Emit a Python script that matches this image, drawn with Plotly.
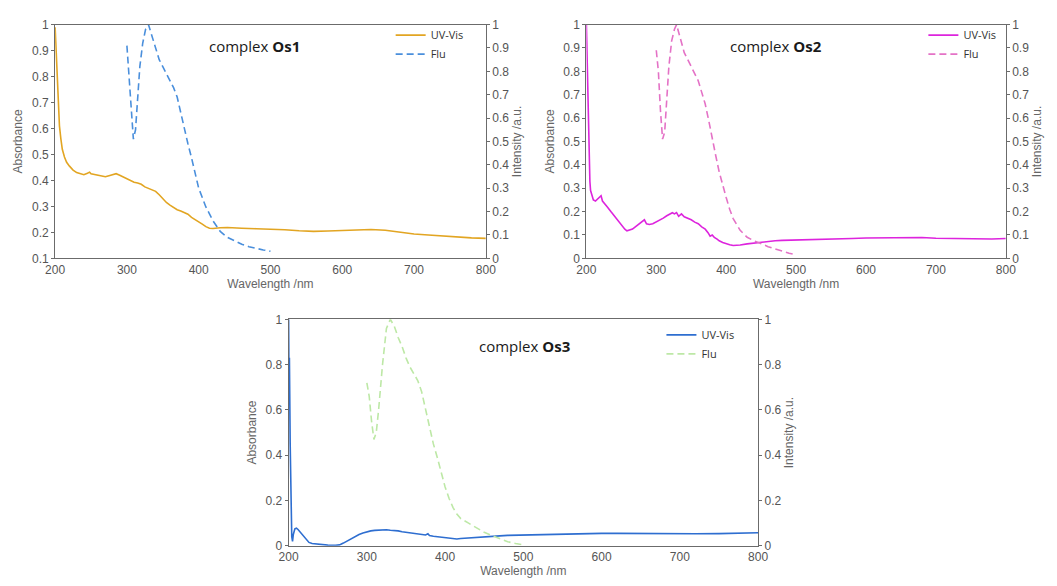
import plotly.graph_objects as go

# ---------------- data ----------------
# Panel 1 (Os1)
os1_uv_wl = [200, 201, 202, 203, 204, 206, 208, 210, 213, 216, 220, 225, 230, 235, 240, 245, 248, 250, 255, 260,
             265, 270, 275, 280, 285, 290, 295, 300, 305, 310, 315, 320, 325, 330, 335, 340, 345, 350, 355, 360,
             365, 370, 375, 380, 385, 390, 395, 400, 405, 410, 415, 420, 425, 430, 440, 450, 460, 480, 500, 520,
             540, 560, 580, 600, 620, 640, 660, 680, 700, 720, 740, 760, 780, 800]
os1_uv_abs = [0.99, 0.93, 0.84, 0.76, 0.69, 0.61, 0.56, 0.52, 0.49, 0.47, 0.455, 0.44, 0.43, 0.427, 0.422, 0.428,
              0.432, 0.426, 0.423, 0.42, 0.418, 0.414, 0.418, 0.423, 0.426, 0.42, 0.413, 0.405, 0.398, 0.393, 0.39,
              0.385, 0.375, 0.37, 0.362, 0.358, 0.345, 0.33, 0.315, 0.305, 0.295, 0.287, 0.282, 0.275, 0.27, 0.258,
              0.25, 0.243, 0.232, 0.222, 0.216, 0.215, 0.217, 0.218, 0.219, 0.217, 0.216, 0.214, 0.213, 0.21,
              0.206, 0.204, 0.205, 0.207, 0.209, 0.211, 0.208, 0.201, 0.194, 0.19, 0.186, 0.182, 0.179, 0.177]
os1_flu_wl = [300, 303, 306, 309, 312, 315, 318, 322, 326, 330, 335, 340, 345, 350, 355, 360, 365, 370, 375, 380,
              385, 390, 395, 400, 405, 410, 415, 420, 430, 440, 450, 460, 470, 480, 490, 500]
os1_flu_int = [0.91, 0.78, 0.62, 0.51, 0.55, 0.7, 0.82, 0.92, 0.98, 1.0, 0.95, 0.89, 0.85, 0.82, 0.79, 0.76, 0.73,
               0.69, 0.62, 0.55, 0.49, 0.43, 0.36, 0.3, 0.26, 0.22, 0.19, 0.16, 0.115, 0.09, 0.075, 0.06, 0.05,
               0.042, 0.036, 0.03]

# Panel 2 (Os2)
os2_uv_wl = [200, 201, 202, 203, 204, 205, 206, 208, 210, 213, 216, 219, 221, 223, 226, 230, 235, 240, 245, 250,
             255, 258, 262, 266, 270, 275, 280, 283, 286, 290, 295, 300, 305, 310, 315, 320, 323, 326, 329, 332,
             336, 340, 345, 350, 355, 360, 365, 370, 374, 377, 380, 383, 387, 390, 395, 400, 405, 410, 415, 420,
             430, 440, 450, 460, 470, 480, 500, 520, 550, 580, 600, 620, 650, 680, 700, 720, 750, 780, 800]
os2_uv_abs = [1.0, 0.85, 0.62, 0.47, 0.38, 0.33, 0.29, 0.265, 0.25, 0.245, 0.255, 0.262, 0.268, 0.245, 0.235, 0.22,
              0.2, 0.18, 0.16, 0.14, 0.125, 0.118, 0.12, 0.125, 0.135, 0.148, 0.158, 0.165, 0.148, 0.145, 0.148,
              0.155, 0.163, 0.172, 0.182, 0.19, 0.195, 0.19, 0.196, 0.18, 0.19, 0.178, 0.172, 0.165, 0.155, 0.148,
              0.135, 0.125, 0.11, 0.095, 0.1, 0.09, 0.082, 0.075, 0.068, 0.062, 0.058, 0.055, 0.055, 0.057, 0.062,
              0.066, 0.07, 0.072, 0.075, 0.077, 0.078, 0.08, 0.082, 0.085, 0.087, 0.088, 0.09, 0.089, 0.086, 0.085,
              0.084, 0.083, 0.085]
os2_flu_wl = [300, 303, 306, 309, 312, 315, 318, 322, 326, 329, 335, 340, 345, 350, 355, 360, 365, 370, 375, 380,
              385, 390, 395, 400, 405, 410, 420, 430, 440, 450, 460, 470, 480, 490, 500]
os2_flu_int = [0.89, 0.8, 0.63, 0.51, 0.54, 0.7, 0.82, 0.93, 0.98, 1.0, 0.93, 0.88, 0.85, 0.82, 0.79, 0.76, 0.71,
               0.66, 0.59, 0.51, 0.44, 0.37, 0.31, 0.26, 0.21, 0.17, 0.12, 0.09, 0.075, 0.062, 0.05, 0.04, 0.03,
               0.022, 0.015]

# Panel 3 (Os3)
os3_uv_wl = [200, 200.5, 201, 202, 203, 204, 205, 206, 208, 210, 212, 215, 218, 222, 226, 230, 235, 240, 250, 260,
             265, 270, 275, 280, 285, 290, 295, 300, 305, 310, 315, 320, 325, 330, 335, 340, 345, 350, 355, 360,
             365, 370, 375, 378, 380, 385, 390, 395, 400, 405, 410, 415, 420, 430, 440, 450, 460, 470, 480, 500,
             520, 550, 580, 600, 620, 650, 680, 700, 720, 750, 780, 800]
os3_uv_abs = [1.0, 0.7, 0.83, 0.45, 0.15, 0.04, 0.02, 0.05, 0.075, 0.078, 0.072, 0.06, 0.045, 0.03, 0.015, 0.01,
              0.008, 0.005, 0.003, 0.002, 0.004, 0.012, 0.022, 0.032, 0.042, 0.05, 0.057, 0.063, 0.066, 0.068, 0.07,
              0.07, 0.071, 0.069, 0.068, 0.066, 0.062, 0.06, 0.057, 0.055, 0.052, 0.05, 0.048, 0.053, 0.045, 0.042,
              0.04, 0.038, 0.036, 0.033, 0.031, 0.03, 0.032, 0.035, 0.037, 0.04, 0.042, 0.044, 0.046, 0.048, 0.05,
              0.052, 0.054, 0.055, 0.055, 0.054, 0.053, 0.052, 0.053, 0.054, 0.056, 0.058]
os3_flu_wl = [300, 303, 306, 309, 312, 315, 320, 325, 330, 335, 340, 345, 350, 355, 360, 365, 370, 375, 380, 385,
              390, 395, 400, 405, 410, 415, 420, 430, 440, 450, 460, 470, 480, 490, 500]
os3_flu_int = [0.72, 0.66, 0.55, 0.47, 0.5, 0.6, 0.8, 0.96, 1.0, 0.97, 0.92, 0.88, 0.83, 0.79, 0.76, 0.73, 0.68,
               0.6, 0.53, 0.45, 0.39, 0.32, 0.26, 0.21, 0.17, 0.14, 0.12, 0.1, 0.08, 0.06, 0.045, 0.03, 0.018,
               0.01, 0.004]

# tick labels
x_ticks = [200, 300, 400, 500, 600, 700, 800]
x_ticktext = ["200", "300", "400", "500", "600", "700", "800"]
tenth_vals = [0, 0.1, 0.2, 0.3, 0.4, 0.5, 0.6, 0.7, 0.8, 0.9, 1]
tenth_text = ["0", "0.1", "0.2", "0.3", "0.4", "0.5", "0.6", "0.7", "0.8", "0.9", "1"]
fifth_vals = [0, 0.2, 0.4, 0.6, 0.8, 1]
fifth_text = ["0", "0.2", "0.4", "0.6", "0.8", "1"]

titles = ["Os1", "Os2", "Os3"]

# ---------------- figure ----------------
W, H = 1057, 586
def px(xp): return xp / W
def py(yp): return 1 - yp / H

fig = go.Figure()

panels = [
    dict(uv=(os1_uv_wl, os1_uv_abs), flu=(os1_flu_wl, os1_flu_int), uvc="#E2A522", fluc="#4A8FDC",
         x="x", yl="y", yr="y2", legend="legend"),
    dict(uv=(os2_uv_wl, os2_uv_abs), flu=(os2_flu_wl, os2_flu_int), uvc="#DD24DD", fluc="#E472C6",
         x="x2", yl="y3", yr="y4", legend="legend2"),
    dict(uv=(os3_uv_wl, os3_uv_abs), flu=(os3_flu_wl, os3_flu_int), uvc="#2E6ED0", fluc="#BDE8A6",
         x="x3", yl="y5", yr="y6", legend="legend3"),
]

for p in panels:
    fig.add_trace(go.Scatter(x=p["uv"][0], y=p["uv"][1], mode="lines", name="UV-Vis",
                             line=dict(color=p["uvc"], width=1.6), xaxis=p["x"], yaxis=p["yl"],
                             legend=p["legend"]))
    fig.add_trace(go.Scatter(x=p["flu"][0], y=p["flu"][1], mode="lines", name="Flu",
                             line=dict(color=p["fluc"], width=1.6, dash="7px,4px"), xaxis=p["x"], yaxis=p["yr"],
                             legend=p["legend"]))

axis_color = "#6b6b6b"
tick_font = dict(family="Liberation Sans, Arial", size=12, color="#555555")
title_font = dict(family="Liberation Sans, Arial", size=12, color="#666666")

def xaxis(domain, anchor):
    return dict(domain=domain, anchor=anchor, range=[200, 800], tickvals=x_ticks, ticktext=x_ticktext,
                showline=True, linecolor=axis_color, linewidth=1, mirror=True, showgrid=False, zeroline=False,
                ticks="", tickfont=tick_font, title=dict(text="Wavelength /nm", font=title_font, standoff=2))

def yleft(domain, anchor, rng, vals, text):
    return dict(domain=domain, anchor=anchor, range=rng, tickvals=vals, ticktext=text, showline=True,
                linecolor=axis_color, linewidth=1, showgrid=False, zeroline=False, ticks="outside", ticklen=3,
                tickcolor=axis_color, tickfont=tick_font,
                title=dict(text="Absorbance", font=title_font, standoff=6))

def yright(overlay, anchor, vals, text):
    return dict(overlaying=overlay, anchor=anchor, side="right", range=[0, 1], tickvals=vals, ticktext=text,
                showline=True, linecolor=axis_color, linewidth=1, showgrid=False, zeroline=False, ticks="outside",
                ticklen=3, tickcolor=axis_color, tickfont=tick_font,
                title=dict(text="Intensity /a.u.", font=title_font, standoff=4))

top_dom = [py(257.5), py(18)]
bot_dom = [py(552), py(320)]

fig.update_layout(
    width=W, height=H, margin=dict(l=0, r=0, t=0, b=0),
    paper_bgcolor="white", plot_bgcolor="white",
    xaxis=xaxis([px(46), px(485)], "y"),
    yaxis=yleft(top_dom, "x", [0.1, 1], tenth_vals[1:], tenth_text[1:]),
    yaxis2=yright("y", "x", tenth_vals, tenth_text),
    xaxis2=xaxis([px(587.5), px(1015)], "y3"),
    yaxis3=yleft(top_dom, "x2", [0, 1], tenth_vals, tenth_text),
    yaxis4=yright("y3", "x2", tenth_vals, tenth_text),
    xaxis3=xaxis([px(284), px(762.5)], "y5"),
    yaxis5=yleft(bot_dom, "x3", [0, 1], fifth_vals, fifth_text),
    yaxis6=yright("y5", "x3", fifth_vals, fifth_text),
    showlegend=True,
)

leg_font = dict(family="Open Sans, Noto Sans", size=11, color="#333333")
for name, lx, ly in [("legend", 388, 14), ("legend2", 931, 14), ("legend3", 664, 321)]:
    fig.update_layout({name: dict(x=px(lx), y=py(ly), xanchor="left", yanchor="top", bgcolor="rgba(0,0,0,0)",
                                  font=leg_font, itemwidth=30, tracegroupgap=0)})

for t, cx, cy in [(titles[0], 249, 40), (titles[1], 781, 40), (titles[2], 524, 347)]:
    fig.add_annotation(x=px(cx), y=py(cy), xref="paper", yref="paper", showarrow=False,
                       xanchor="center", yanchor="middle",
                       text="complex <b>" + t + "</b>",
                       font=dict(family="Open Sans, Noto Sans", size=15, color="#1a1a1a"))

fig.write_html("out.html")
